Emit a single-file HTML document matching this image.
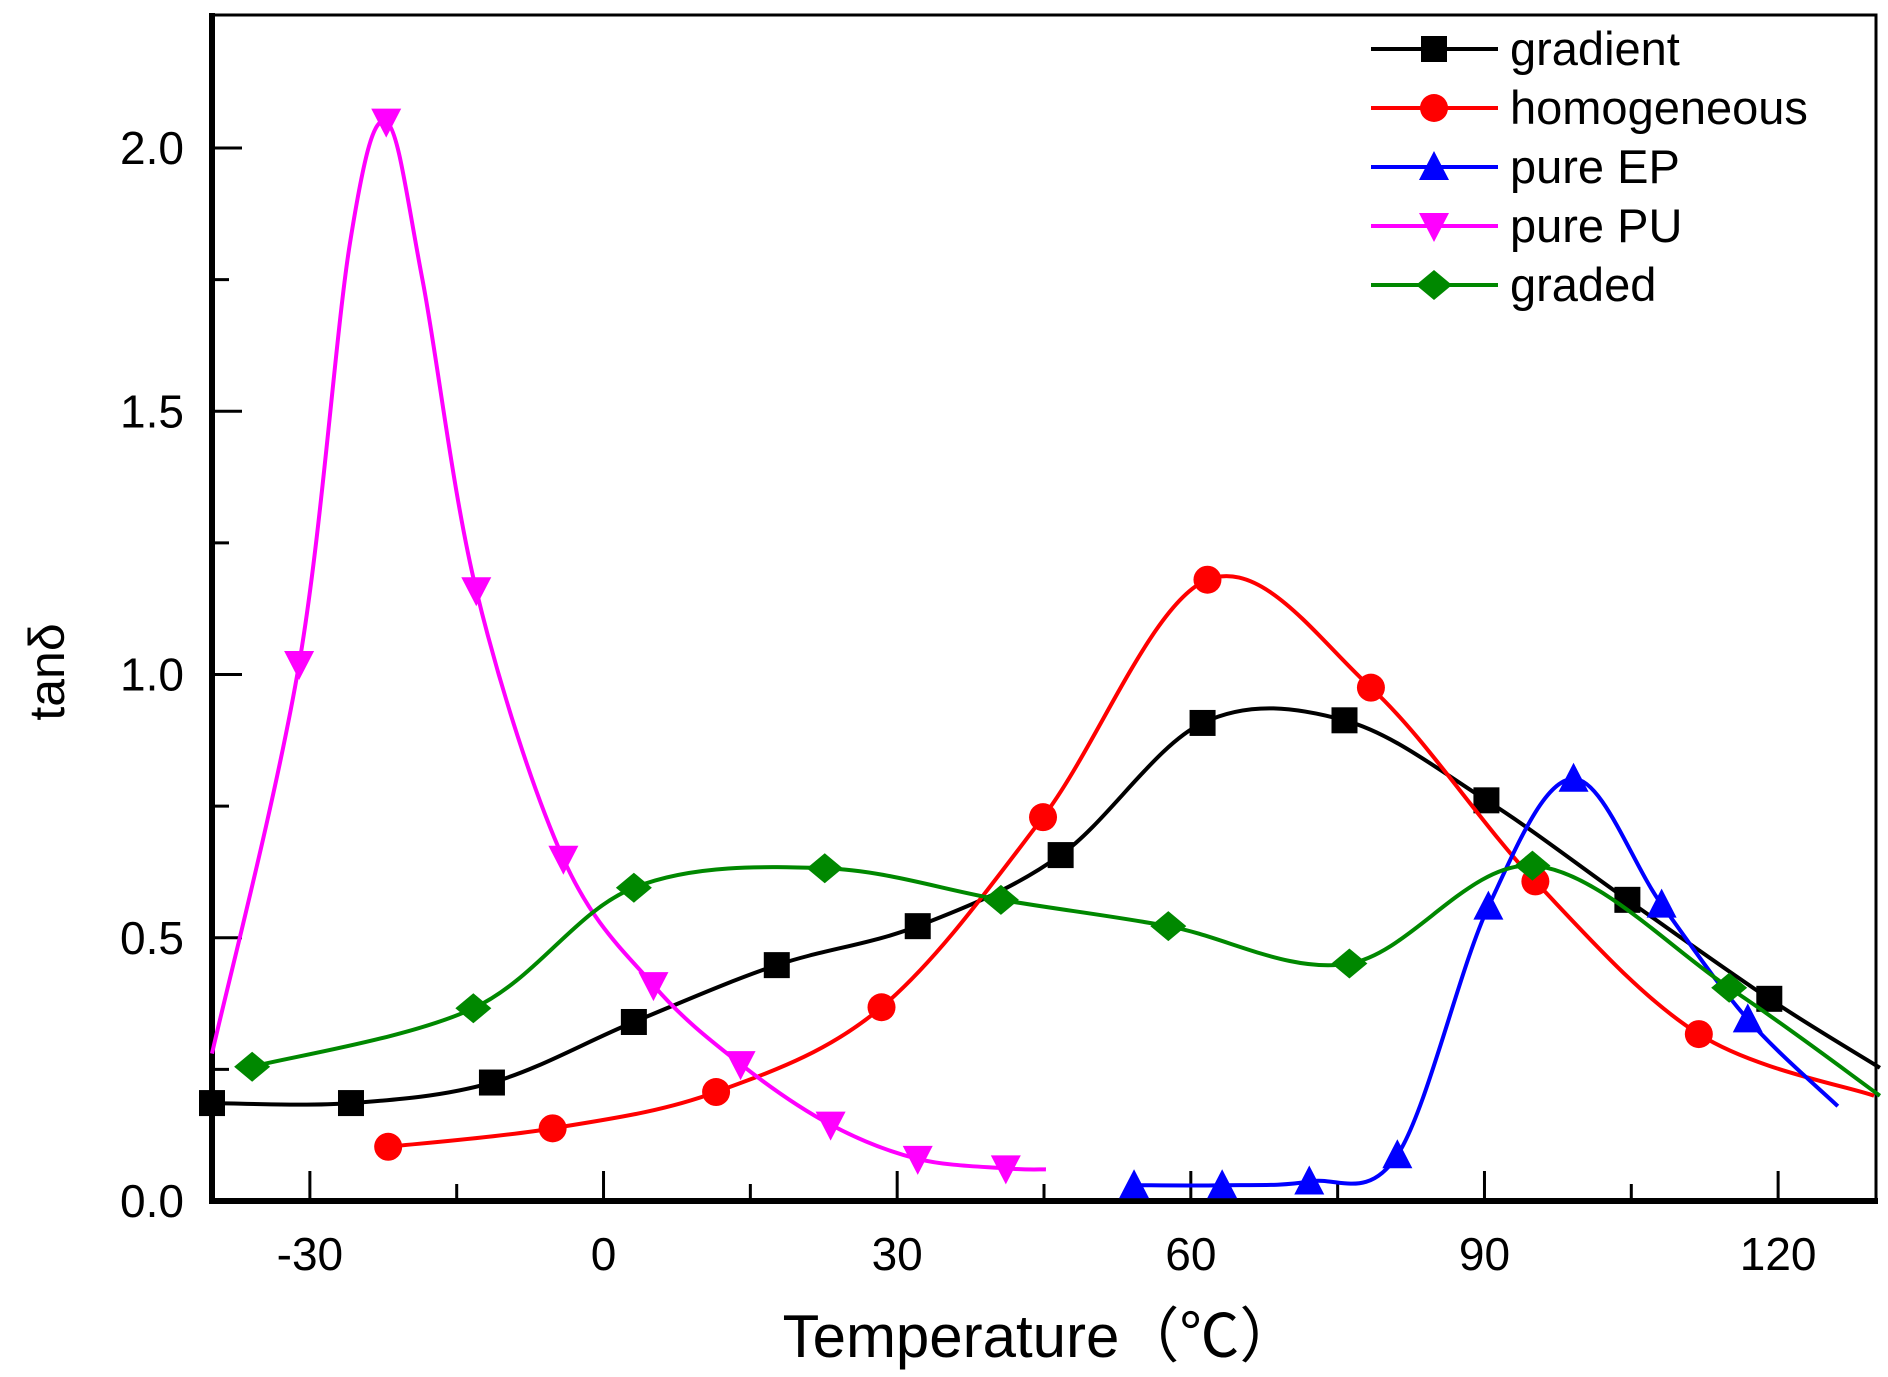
<!DOCTYPE html>
<html><head><meta charset="utf-8"><style>
html,body{margin:0;padding:0;background:#fff;}
svg{display:block;font-family:"Liberation Sans",Arial,sans-serif;}
</style></head><body>
<svg id="chart" width="1888" height="1377" viewBox="0 0 1888 1377" xmlns="http://www.w3.org/2000/svg">
<g id="axes"></g>
<g id="series"></g>
<g id="legend"></g>
<text x="1041" y="1357" font-size="60" text-anchor="middle">Temperature（℃）</text>
<text transform="translate(64,672) rotate(-90)" font-size="50" text-anchor="middle">tanδ</text>
</svg>
<script>
const xTicks=[-30,0,30,60,90,120];
const yTicks=[0,0.5,1.0,1.5,2.0];
const yTickLabels=["0.0","0.5","1.0","1.5","2.0"];
const seriesNames=["gradient","homogeneous","pure EP","pure PU","graded"];
const gradientT=[-40,-25.8,-11.4,3.1,17.7,32.1,46.7,61.2,75.7,90.2,104.6,119.1,130.4];
const gradientV=[0.186,0.186,0.225,0.34,0.448,0.522,0.657,0.908,0.913,0.761,0.572,0.384,0.253];
const homoT=[-22.0,-5.2,11.5,28.4,44.9,61.7,78.4,95.2,111.9,129.8];
const homoV=[0.103,0.138,0.207,0.368,0.729,1.18,0.975,0.607,0.317,0.2];
const epT=[54.2,63.2,72.1,81.1,90.4,99.1,108.1,116.9,126.1];
const epV=[0.03,0.03,0.037,0.087,0.559,0.802,0.563,0.345,0.18];
const puT=[-40,-31.1,-25.9,-22.2,-18.5,-13.0,-4.1,5.1,14.0,23.2,32.1,41.1,45.2];
const puV=[0.28,1.02,1.82,2.05,1.75,1.16,0.65,0.41,0.26,0.145,0.08,0.062,0.06];
const gradedT=[-35.9,-13.3,3.1,22.6,40.6,57.7,76.2,94.9,115.0,130.4];
const gradedV=[0.255,0.366,0.595,0.632,0.572,0.522,0.451,0.637,0.405,0.2];

const NS="http://www.w3.org/2000/svg";
const L=212,R=1876,T=15,B=1201,xMin=-40,xMax=130,yMax=(B-T)/526.5;
const sx=t=>L+(t-xMin)*(R-L)/(xMax-xMin);
const sy=v=>B-v*(B-T)/yMax;
function mk(tag,attrs,parent){const e=document.createElementNS(NS,tag);for(const k in attrs)e.setAttribute(k,attrs[k]);parent.appendChild(e);return e;}
const axes=document.getElementById('axes');
const frame=mk('rect',{x:L,y:T,width:R-L,height:B-T,fill:'none',stroke:'#000','stroke-width':3},axes);


mk('line',{x1:L,y1:T-2,x2:L,y2:B+3,stroke:'#000','stroke-width':6},axes);
mk('line',{x1:L-3,y1:B,x2:R+2,y2:B,stroke:'#000','stroke-width':6},axes);
for(let t=-30;t<=120;t+=15){
  const major=xTicks.includes(t);
  const tk=mk('line',{x1:sx(t),y1:B,x2:sx(t),y2:B-(major?30:17),stroke:'#000','stroke-width':3},axes);
  
  
}
xTicks.forEach(t=>{
  const e=mk('text',{x:sx(t),y:1270,'font-size':46,'text-anchor':'middle'},axes);e.textContent=t;
  
  
});
for(let v=0.25;v<=2.0;v+=0.25){
  const major=Math.abs(v*2-Math.round(v*2))<1e-6;
  const tk=mk('line',{x1:L,y1:sy(v),x2:L+(major?30:17),y2:sy(v),stroke:'#000','stroke-width':3},axes);
  
  
}
yTicks.forEach((v,i)=>{
  const e=mk('text',{x:184,y:sy(v)+16,'font-size':46,'text-anchor':'end'},axes);e.textContent=yTickLabels[i];
  
  
});
function spline(pts){
  let d=`M${pts[0][0]},${pts[0][1]}`;
  for(let i=0;i<pts.length-1;i++){
    const p0=pts[Math.max(i-1,0)],p1=pts[i],p2=pts[i+1],p3=pts[Math.min(i+2,pts.length-1)];
    const c1=[p1[0]+(p2[0]-p0[0])/6,p1[1]+(p2[1]-p0[1])/6];
    const c2=[p2[0]-(p3[0]-p1[0])/6,p2[1]-(p3[1]-p1[1])/6];
    d+=` C${c1[0]},${c1[1]} ${c2[0]},${c2[1]} ${p2[0]},${p2[1]}`;
  }
  return d;
}
function marker(shape,x,y,color,parent){
  const s=13;let e;
  if(shape==='square')e=mk('rect',{x:x-s,y:y-s,width:2*s,height:2*s,fill:color},parent);
  else if(shape==='circle')e=mk('circle',{cx:x,cy:y,r:s+1,fill:color},parent);
  else if(shape==='up')e=mk('polygon',{points:`${x},${y-s-3} ${x-s-2},${y+s} ${x+s+2},${y+s}`,fill:color},parent);
  else if(shape==='down')e=mk('polygon',{points:`${x},${y+s+3} ${x-s-2},${y-s} ${x+s+2},${y-s}`,fill:color},parent);
  else e=mk('polygon',{points:`${x},${y-s-2} ${x+s+5},${y} ${x},${y+s+2} ${x-s-5},${y}`,fill:color},parent);
  return e;
}
const defs=[
 {name:'gradient',T:gradientT,V:gradientV,color:'#000',shape:'square',skip:[12]},
 {name:'homogeneous',T:homoT,V:homoV,color:'#f00',shape:'circle',skip:[9]},
 {name:'pure-ep',T:epT,V:epV,color:'#00f',shape:'up',skip:[8]},
 {name:'pure-pu',T:puT,V:puV,color:'#f0f',shape:'down',skip:[0,2,4,12]},
 {name:'graded',T:gradedT,V:gradedV,color:'#080',shape:'diamond',skip:[9]}
];
const sg=document.getElementById('series');
defs.forEach(s=>{
  const g=mk('g',{},sg);
  
  
  const pts=s.T.map((t,i)=>[sx(t),sy(s.V[i])]);
  const p=mk('path',{d:spline(pts),fill:'none',stroke:s.color,'stroke-width':4},g);
  
  
  pts.forEach((q,i)=>{if(s.skip.includes(i))return;
    const m=marker(s.shape,q[0],q[1],s.color,g);
    
    
  });
});
const lg=document.getElementById('legend');
const rowsY=[49,108,167,226,285];
defs.forEach((s,i)=>{
  const g=mk('g',{},lg);
  
  
  mk('line',{x1:1371,y1:rowsY[i],x2:1498,y2:rowsY[i],stroke:s.color,'stroke-width':4},g);
  marker(s.shape,1434,rowsY[i],s.color,g);
  const t=mk('text',{x:1510,y:rowsY[i]+16,'font-size':47},g);t.textContent=seriesNames[i];
});
</script>
</body></html>
